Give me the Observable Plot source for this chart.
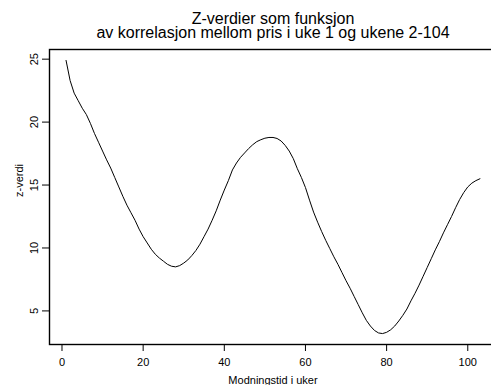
<!DOCTYPE html>
<html>
<head>
<meta charset="utf-8">
<script src="https://cdn.jsdelivr.net/npm/d3@7"></script>
<script src="https://cdn.jsdelivr.net/npm/@observablehq/plot@0.6"></script>
<style>
  html, body { margin: 0; padding: 0; background: #fff; overflow: hidden; width: 491px; height: 385px; }
  #chart { width: 491px; height: 385px; overflow: hidden; }
  #chart svg { display: block; font-family: "Liberation Sans", Arial, Helvetica, sans-serif; max-width: none; }
</style>
</head>
<body>
<div id="chart"></div>
<script>
// Z-values per ripening week (weeks 1–103)
const zValues = [
  24.9, 23.3, 22.3, 21.7, 21.1, 20.6, 19.9, 19.1, 18.4, 17.7,
  17.0, 16.35, 15.6, 14.85, 14.1, 13.4, 12.8, 12.2, 11.5, 10.9,
  10.4, 9.9, 9.5, 9.2, 8.95, 8.7, 8.55, 8.5, 8.6, 8.8,
  9.05, 9.4, 9.8, 10.3, 10.9, 11.5, 12.2, 12.95, 13.8, 14.6,
  15.35, 16.2, 16.75, 17.2, 17.55, 17.9, 18.2, 18.45, 18.6, 18.72,
  18.78, 18.78, 18.7, 18.5, 18.15, 17.7, 17.1, 16.3, 15.6, 14.8,
  13.8, 12.85, 12.05, 11.3, 10.6, 9.95, 9.3, 8.7, 8.05, 7.4,
  6.8, 6.15, 5.5, 4.85, 4.25, 3.8, 3.45, 3.25, 3.2, 3.3,
  3.5, 3.8, 4.2, 4.65, 5.15, 5.8, 6.4, 7.05, 7.75, 8.45,
  9.15, 9.85, 10.5, 11.2, 11.85, 12.5, 13.2, 13.85, 14.4, 14.85,
  15.15, 15.35, 15.5
];
const weeks = zValues.map((_, i) => i + 1);

const xTicks = [0, 20, 40, 60, 80, 100];
const yTicks = [5, 10, 15, 20, 25];

const titleLines = ["Z-verdier som funksjon", "av korrelasjon mellom pris i uke 1 og ukene 2-104"];
const xLabel = "Modningstid i uker";
const yLabel = "z-verdi";

// 4% padding on each side of the data range
function padded(values) {
  const [lo, hi] = d3.extent(values);
  const p = (hi - lo) * 0.04;
  return [lo - p, hi + p];
}

const xDomain = padded(weeks);
const yDomain = padded(zValues);
const data = weeks.map((w, i) => ({week: w, z: zValues[i]}));

// The plotting box runs slightly past the right edge of the 491px window
const chart = Plot.plot({
  width: 497,
  height: 385,
  marginLeft: 49,
  marginTop: 49,
  marginBottom: 41,
  marginRight: 1,
  style: {fontFamily: "Liberation Sans, Arial, sans-serif", fontSize: "11px", color: "#000", overflow: "hidden"},
  x: {domain: xDomain},
  y: {domain: yDomain},
  marks: [
    // box around the plotting region
    Plot.frame({stroke: "#000", strokeWidth: 1.4}),
    Plot.axisX({ticks: xTicks, tickSize: 7, tickPadding: 7, fontSize: 11, label: null, stroke: "#000"}),
    Plot.axisY({ticks: yTicks, tickSize: 7, tickFormat: () => "", label: null, stroke: "#000"}),
    Plot.text(yTicks, {y: d => d, text: d => String(d), frameAnchor: "left", dx: -11.5, rotate: -90,
      lineAnchor: "bottom", textAnchor: "middle", fontSize: 11, fill: "#000"}),
    Plot.line(data, {x: "week", y: "z", stroke: "#000", strokeWidth: 1}),
    Plot.text([xLabel], {text: d => d, frameAnchor: "bottom", dy: 39.5, lineAnchor: "bottom", fontSize: 11, fill: "#000"}),
    Plot.text([yLabel], {text: d => d, frameAnchor: "left", dx: -27, rotate: -90, lineAnchor: "bottom", fontSize: 11, fill: "#000"}),
    Plot.text([titleLines[0]], {text: d => d, frameAnchor: "top", dy: -25.5, lineAnchor: "bottom", fontSize: 16, fill: "#000"}),
    Plot.text([titleLines[1]], {text: d => d, frameAnchor: "top", dy: -11.5, lineAnchor: "bottom", fontSize: 16, fill: "#000"})
  ]
});

document.getElementById("chart").appendChild(chart);
</script>
</body>
</html>
